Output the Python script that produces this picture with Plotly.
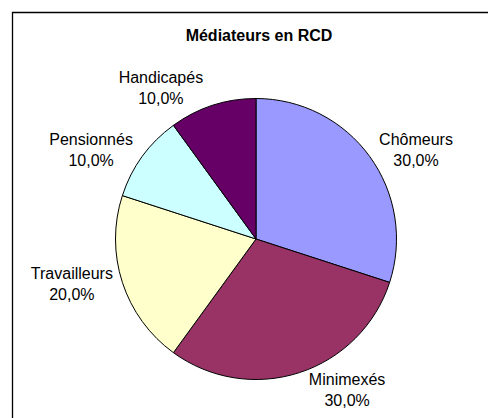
import plotly.graph_objects as go

categories = ["Chômeurs", "Minimexés", "Travailleurs", "Pensionnés", "Handicapés"]
values = [30, 30, 20, 10, 10]
colors = ["#9999FF", "#993366", "#FFFFCC", "#CCFFFF", "#660066"]
title_text = "Médiateurs en RCD"

W, H = 488, 418
cx, cy, r = 256, 239, 140.5
FONT = "Liberation Sans, Arial, sans-serif"

fig = go.Figure(go.Pie(
    labels=categories,
    values=values,
    sort=False,
    direction="clockwise",
    rotation=0,
    marker=dict(colors=colors, line=dict(color="#000000", width=1)),
    textposition="outside",
    texttemplate="%{label}<br>%{percent:.1%}",
    textfont=dict(family=FONT, size=16, color="#000000"),
    showlegend=False,
    hoverinfo="label+percent",
    domain=dict(x=[(cx - r) / W, (cx + r) / W], y=[(H - cy - r) / H, (H - cy + r) / H]),
))

fig.update_layout(
    width=W, height=H,
    margin=dict(l=0, r=0, t=0, b=0),
    paper_bgcolor="#FFFFFF",
    plot_bgcolor="#FFFFFF",
    separators=", ",
    title=dict(
        text="<b>" + title_text + "</b>",
        font=dict(family=FONT, size=16, color="#000000"),
        x=259 / W, xanchor="center", xref="paper",
        y=1 - 35 / H, yanchor="middle", yref="paper",
    ),
    shapes=[dict(
        type="rect", xref="paper", yref="paper",
        x0=12.5 / W, x1=1.02, y0=-0.02, y1=1 - 12.5 / H,
        line=dict(color="#000000", width=1.3), fillcolor="rgba(0,0,0,0)",
    )],
)

fig.write_html(
    "out.html",
    config={"displayModeBar": False},
    post_script="document.body.style.margin='0';document.body.style.overflow='hidden';",
)
